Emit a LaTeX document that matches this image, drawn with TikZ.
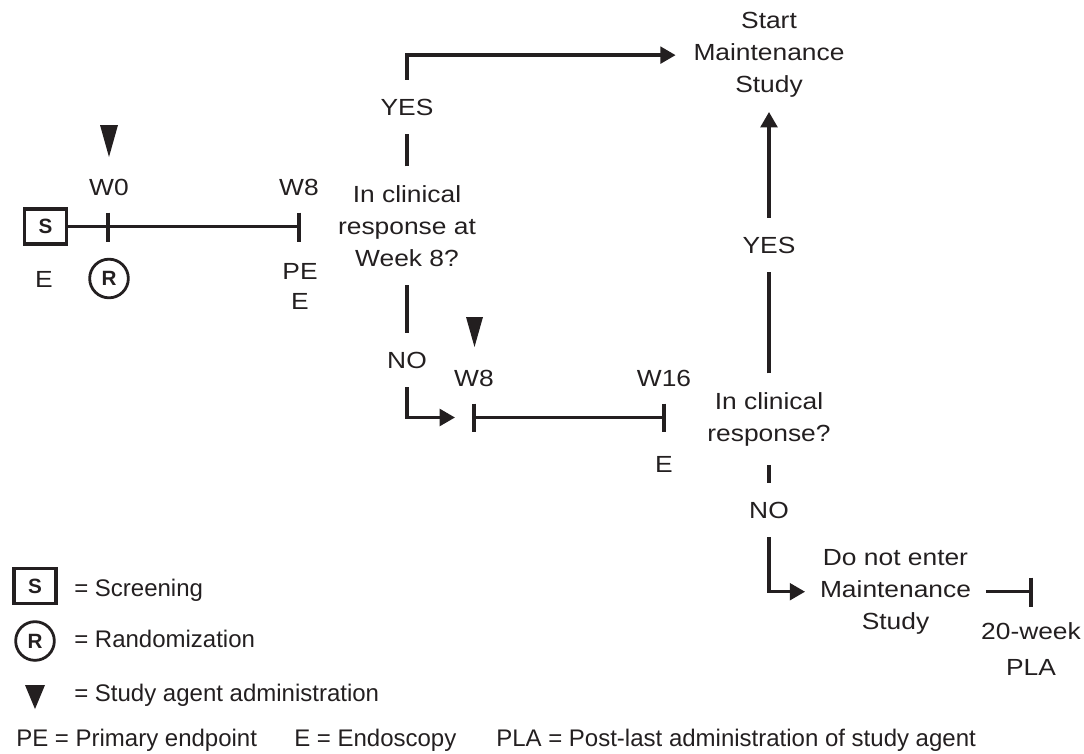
\documentclass[tikz,border=0pt]{standalone}
\usepackage{fontspec}
\setmainfont{Liberation Sans}
\newfontfamily\mfont[FakeStretch=1.13]{Liberation Sans}
\usetikzlibrary{arrows.meta}
\definecolor{ink}{RGB}{35,31,32}
\begin{document}
\begin{tikzpicture}[x=0.75pt,y=-0.75pt,
  line/.style={draw=ink, line width=2.5pt},
  arr/.style={line, -{Triangle[length=11.5pt,width=12.5pt]}},
  lbl/.style={text=ink, font=\mfont\fontsize{17.5}{24}\selectfont, inner sep=0pt},
  flow/.style={lbl, inner ysep=14pt, inner xsep=2pt},
  multi/.style={lbl, align=center},
  leg/.style={text=ink, font=\fontsize{18}{22}\selectfont, inner sep=0pt, anchor=base west},
  sbox/.style={draw=ink, line width=2.7pt, minimum width=31.5pt, minimum height=26pt, inner sep=0pt, text=ink, font=\fontsize{15.5}{18}\selectfont\bfseries},
  rcirc/.style={circle, draw=ink, line width=2.1pt, minimum size=29pt, inner sep=0pt, text=ink, font=\fontsize{15.5}{18}\selectfont\bfseries},
  marker/.style={fill=ink}
]
\useasboundingbox (0,0) rectangle (1084,753);

% ---- first timeline
\node[sbox] (S) at (45.5,226.5) {S};
\node[lbl, anchor=base] (W0) at (109,195) {W0};
\node[lbl, anchor=base] (W8a) at (299,195) {W8};
\node[lbl, anchor=base] (E0) at (44,287) {E};
\node[rcirc] (R) at (109,278.5) {R};
\node[multi, anchor=north, font=\mfont\fontsize{17.5}{22.5}\selectfont] (PE) at (300,263) {PE\\E};
\coordinate (t1a) at (108,226.5);
\coordinate (t1b) at (299,226.5);
\draw[line] (S.east) -- (t1b);
\draw[line] (t1a) ++(0,-14) -- ++(0,29);
\draw[line] (t1b) ++(0,-14) -- ++(0,29);
\fill[marker] (100,125) -- (118,125) -- (109,157) -- cycle;

% ---- first decision
\node[flow, anchor=base] (yes1) at (407,115) {YES};
\node[multi, inner ysep=14pt, anchor=north] (q1) at (407,166.3) {In clinical\\response at\\Week 8?};
\node[flow, anchor=base] (no1) at (407,368) {NO};
\node[multi, inner ysep=10.5pt, inner xsep=13.2pt, anchor=north] (start) at (769,-1.7) {Start\\Maintenance\\Study};
\draw[arr] (yes1.north) |- (start.west);
\draw[line] (q1.north) -- (yes1.south);
\draw[line] (q1.south) -- (no1.north);
\coordinate (t2in) at (455,417.5);
\draw[arr] (no1.south) |- (t2in);

% ---- second timeline
\coordinate (t2a) at (474,417.5);
\coordinate (t2b) at (664,417.5);
\draw[line] (t2a) -- (t2b);
\draw[line] (t2a) ++(0,-14) -- ++(0,28);
\draw[line] (t2b) ++(0,-14) -- ++(0,28);
\fill[marker] (466,317) -- (483,317) -- (474.5,347) -- cycle;
\node[lbl, anchor=base] (W8b) at (474,386) {W8};
\node[lbl, anchor=base] (W16) at (664,386) {W16};
\node[lbl, anchor=base] (E2) at (664,472) {E};

% ---- second decision
\node[multi, inner ysep=14pt, anchor=north] (q2) at (769,373.3) {In clinical\\response?};
\node[flow, anchor=base] (yes2) at (769,253) {YES};
\node[flow, anchor=base] (no2) at (769,518) {NO};
\draw[line] (q2.north) -- (yes2.south);
\draw[arr] (yes2.north) -- (start.south);
\draw[line] (q2.south) -- (no2.north);
\node[multi, inner ysep=10.5pt, inner xsep=11pt, anchor=north] (dne) at (895.5,535) {Do not enter\\Maintenance\\Study};
\draw[arr] (no2.south) |- (dne.west);
\coordinate (plat) at (1031,591);
\draw[line] (dne.east) -- (dne.east -| plat);
\draw[line] (dne.east -| plat) ++(0,-14) -- ++(0,29);
\node[multi, anchor=north, font=\mfont\fontsize{17.5}{27}\selectfont] (pla) at (1031,622) {20-week\\PLA};

% ---- legend
\node[sbox] (LS) at (35,586) {S};
\node[leg] (Lscr) at (74,596) {= Screening};
\node[rcirc] (LR) at (35,641) {R};
\node[leg] (Lran) at (74,647) {= Randomization};
\fill[marker] (25,685) -- (45,685) -- (35,709) -- cycle;
\node[leg] (Ladm) at (74,701.7) {= Study agent administration};
\node[leg] (Lpe) at (16,746) {PE = Primary endpoint};
\node[leg] (Le) at (294,746) {E = Endoscopy};
\node[leg] (Lpla) at (496,746) {PLA = Post-last administration of study agent};
\end{tikzpicture}
\end{document}
